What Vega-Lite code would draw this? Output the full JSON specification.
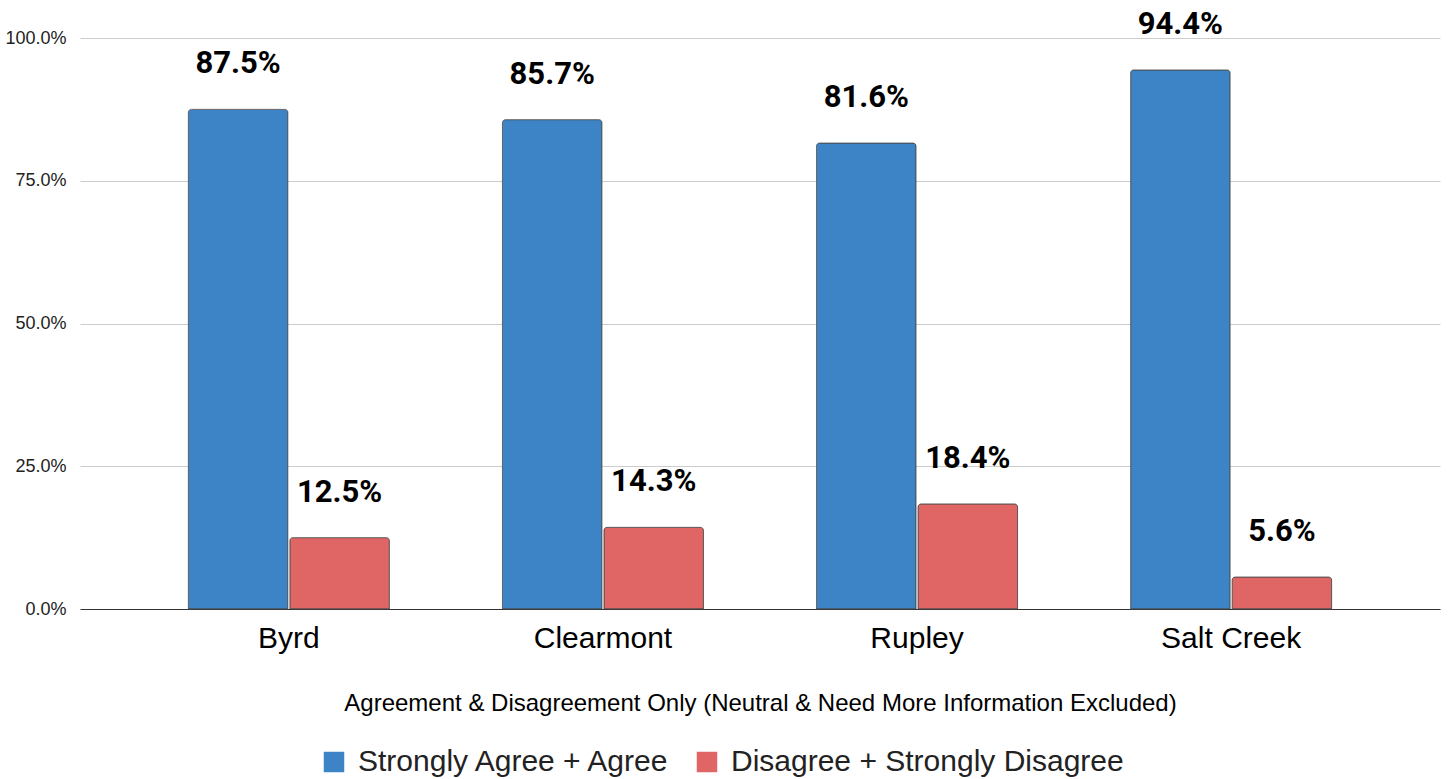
{
  "$schema": "https://vega.github.io/schema/vega-lite/v6.json",
  "autosize": "none",
  "width": 1360,
  "height": 571,
  "padding": {"left": 80, "top": 38, "right": 12, "bottom": 170},
  "background": "white",
  "config": {
    "view": {"stroke": null},
    "font": "Liberation Sans"
  },
  "data": {
    "values": [
      {"school": "Byrd", "series": "Strongly Agree + Agree", "value": 0.875},
      {"school": "Byrd", "series": "Disagree + Strongly Disagree", "value": 0.125},
      {"school": "Clearmont", "series": "Strongly Agree + Agree", "value": 0.857},
      {"school": "Clearmont", "series": "Disagree + Strongly Disagree", "value": 0.143},
      {"school": "Rupley", "series": "Strongly Agree + Agree", "value": 0.816},
      {"school": "Rupley", "series": "Disagree + Strongly Disagree", "value": 0.184},
      {"school": "Salt Creek", "series": "Strongly Agree + Agree", "value": 0.944},
      {"school": "Salt Creek", "series": "Disagree + Strongly Disagree", "value": 0.056}
    ]
  },
  "encoding": {
    "x": {
      "field": "school",
      "type": "nominal",
      "sort": null,
      "scale": {"paddingInner": 0.36, "paddingOuter": 0.345},
      "axis": {
        "title": "Agreement & Disagreement Only (Neutral & Need More Information Excluded)",
        "titleFontSize": 24,
        "titleFontWeight": "normal",
        "titleColor": "#000000",
        "titlePadding": 38,
        "labelFontSize": 30,
        "labelColor": "#000000",
        "labelAngle": 0,
        "labelPadding": 14,
        "ticks": false,
        "domainColor": "#333333",
        "domainWidth": 1.2
      }
    },
    "xOffset": {
      "field": "series",
      "type": "nominal",
      "sort": ["Strongly Agree + Agree", "Disagree + Strongly Disagree"],
      "scale": {"paddingInner": 0.02}
    },
    "y": {
      "field": "value",
      "type": "quantitative",
      "scale": {"domain": [0, 1]},
      "axis": {
        "title": null,
        "format": ".1%",
        "values": [0, 0.25, 0.5, 0.75, 1],
        "labelFontSize": 18,
        "labelColor": "#222222",
        "labelPadding": 14,
        "ticks": false,
        "domain": false,
        "gridColor": "#cccccc",
        "gridWidth": 1
      }
    }
  },
  "layer": [
    {
      "mark": {"type": "bar", "cornerRadiusTopLeft": 3, "cornerRadiusTopRight": 3, "stroke": "#4a4a4a", "strokeWidth": 1, "strokeOpacity": 0.8},
      "encoding": {
        "color": {
          "field": "series",
          "type": "nominal",
          "sort": ["Strongly Agree + Agree", "Disagree + Strongly Disagree"],
          "scale": {"domain": ["Strongly Agree + Agree", "Disagree + Strongly Disagree"], "range": ["#3d84c6", "#e06666"]},
          "legend": {
            "title": null,
            "orient": "none",
            "legendX": 239,
            "legendY": 709,
            "direction": "horizontal",
            "labelFontSize": 30,
            "labelColor": "#222222",
            "symbolType": "square",
            "symbolSize": 420,
            "symbolStrokeWidth": 0,
            "symbolOffset": 0,
            "labelOffset": 9,
            "columnPadding": 21,
            "labelLimit": 600
          }
        }
      }
    },
    {
      "mark": {"type": "text", "dy": -45, "fontSize": 31, "fontWeight": "bold", "font": "Roboto", "color": "#000000"},
      "encoding": {
        "text": {"field": "value", "type": "quantitative", "format": ".1%"}
      }
    }
  ]
}
